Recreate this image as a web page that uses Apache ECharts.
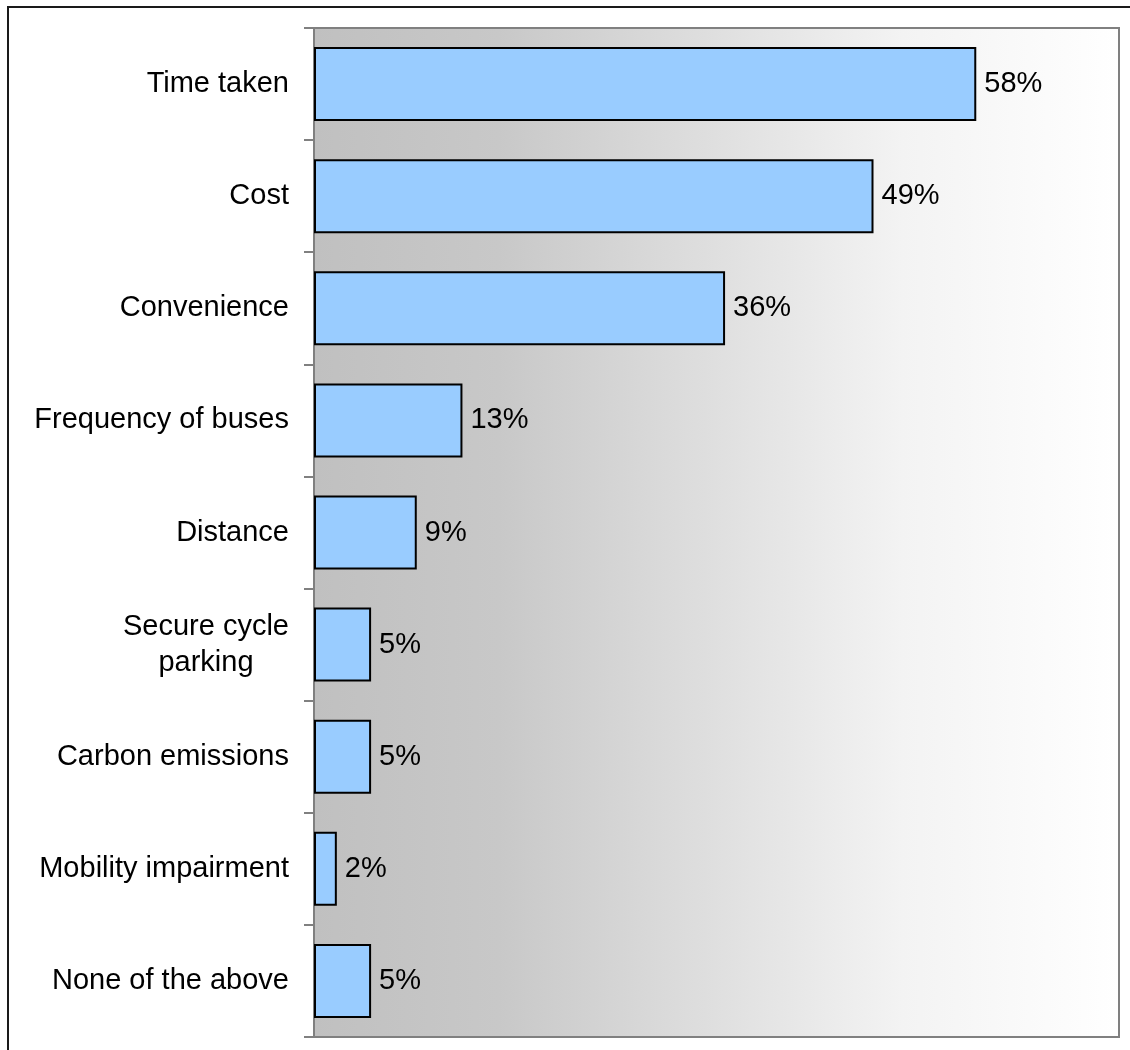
<!DOCTYPE html>
<html>
<head>
<meta charset="utf-8">
<script src="https://cdn.jsdelivr.net/npm/echarts@6/dist/echarts.min.js"></script>
<style>
  html, body { margin: 0; padding: 0; background: #fff; }
  #chart { width: 1130px; height: 1050px; }
</style>
</head>
<body>
<div id="chart"></div>
<script>
// Reasons given for travel choice (share of respondents, %)
const categories = [
  'Time taken',
  'Cost',
  'Convenience',
  'Frequency of buses',
  'Distance',
  'Secure cycle\nparking',
  'Carbon emissions',
  'Mobility impairment',
  'None of the above'
];
const shares = [58, 49, 36, 13, 9, 5, 5, 2, 5];

const chart = echarts.init(document.getElementById('chart'), null, { renderer: 'canvas' });

const font = '"Liberation Sans", Arial, sans-serif';
const fontSize = 29;

chart.setOption({
  animation: false,
  backgroundColor: '#ffffff',
  graphic: [{
    type: 'rect',
    silent: true,
    z: 100,
    shape: { x: 8, y: 7, width: 1300, height: 1300 },
    style: { fill: 'none', stroke: '#1a1a1a', lineWidth: 2 }
  }],
  grid: {
    left: 314,
    top: 28,
    right: 11,
    bottom: 13,
    show: true,
    borderColor: '#808080',
    borderWidth: 2,
    backgroundColor: {
      type: 'linear', x: 0, y: 0, x2: 1, y2: 0,
      colorStops: [
        { offset: 0, color: '#c0c0c0' },
        { offset: 0.23, color: '#c8c8c8' },
        { offset: 0.73, color: '#f3f3f3' },
        { offset: 1, color: '#ffffff' }
      ]
    }
  },
  xAxis: {
    type: 'value',
    min: 0,
    max: 70.5,
    show: false,
    splitLine: { show: false }
  },
  yAxis: {
    type: 'category',
    data: categories,
    inverse: true,
    axisLine: { show: true, lineStyle: { color: '#808080', width: 2 } },
    axisTick: { show: true, length: 10, alignWithLabel: false, lineStyle: { color: '#808080', width: 2 } },
    axisLabel: {
      margin: 25,
      color: '#000',
      fontSize: fontSize,
      fontFamily: font,
      lineHeight: 36,
      align: 'right',
      // each line of a wrapped label is centred within the label block
      formatter: v => v.split('\n').map(s => '{c|' + s + '}').join('\n'),
      rich: {
        c: {
          align: 'center',
          color: '#000',
          fontSize: fontSize,
          fontFamily: font,
          lineHeight: 36
        }
      }
    },
    splitLine: { show: false }
  },
  series: [{
    type: 'bar',
    data: shares,
    barCategoryGap: '34%',
    itemStyle: { color: '#99ccff', borderColor: '#000', borderWidth: 2 },
    label: {
      show: true,
      position: 'right',
      distance: 8,
      formatter: '{c}%',
      color: '#000',
      fontSize: fontSize,
      fontFamily: font
    }
  }]
});
</script>
</body>
</html>
